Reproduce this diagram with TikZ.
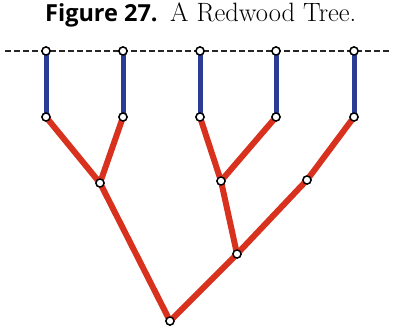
\documentclass[tikz,border=0pt]{standalone}
\usepackage{fontspec}
\newfontfamily\titlesans{Open Sans}
\definecolor{stemblue}{HTML}{2B3C94}
\definecolor{branchred}{HTML}{D8321F}
\begin{document}
\begin{tikzpicture}[x=1pt,y=-1pt,
  dot/.style={circle,draw=black,fill=white,line width=1.4pt,inner sep=0pt,minimum size=8pt},
  stem/.style={stemblue,line width=5pt},
  branch/.style={branchred,line width=6pt},
  ground/.style={draw=black!85,line width=1.5pt,dash pattern=on 6pt off 3pt}]
\useasboundingbox (0,0) rectangle (393,330);
\node[anchor=base west,inner sep=0pt] (figlabel) at (45,21) {\fontsize{23.5}{26}\selectfont\titlesans\bfseries Figure 27.};
\node[anchor=base west,inner sep=0pt] (title) at (170,21) {\fontsize{26.5}{28}\selectfont A Redwood Tree.};
\coordinate (gl) at (5,51);
\coordinate (gr) at (390,51);
\draw[ground] (gl) -- (gr);
% top nodes
\node[dot] (t1) at (46,51) {};
\node[dot] (t2) at (123,51) {};
\node[dot] (t3) at (200,51) {};
\node[dot] (t4) at (276,51) {};
\node[dot] (t5) at (354,51) {};
% blue stem bottoms
\node[dot] (b1) at (46,117) {};
\node[dot] (b2) at (123,117) {};
\node[dot] (b3) at (200,117) {};
\node[dot] (b4) at (276,117) {};
\node[dot] (b5) at (354,117) {};
% internal
\node[dot] (a) at (100,183) {};
\node[dot] (b) at (221,181) {};
\node[dot] (c) at (307,180) {};
\node[dot] (d) at (237,254) {};
\node[dot] (r) at (170,321) {};
% edges
\draw[stem] (t1.center) -- (b1.center);
\draw[stem] (t2.center) -- (b2.center);
\draw[stem] (t3.center) -- (b3.center);
\draw[stem] (t4.center) -- (b4.center);
\draw[stem] (t5.center) -- (b5.center);
\draw[branch] (b1.center) -- (a.center);
\draw[branch] (b2.center) -- (a.center);
\draw[branch] (a.center) -- (r.center);
\draw[branch] (b3.center) -- (b.center);
\draw[branch] (b4.center) -- (b.center);
\draw[branch] (b.center) -- (d.center);
\draw[branch] (b5.center) -- (c.center);
\draw[branch] (c.center) -- (d.center);
\draw[branch] (d.center) -- (r.center);
% dots on top of the edges
\foreach \n in {t1,t2,t3,t4,t5,b1,b2,b3,b4,b5,a,b,c,d,r}
  \node[dot] at (\n) {};
\end{tikzpicture}
\end{document}
